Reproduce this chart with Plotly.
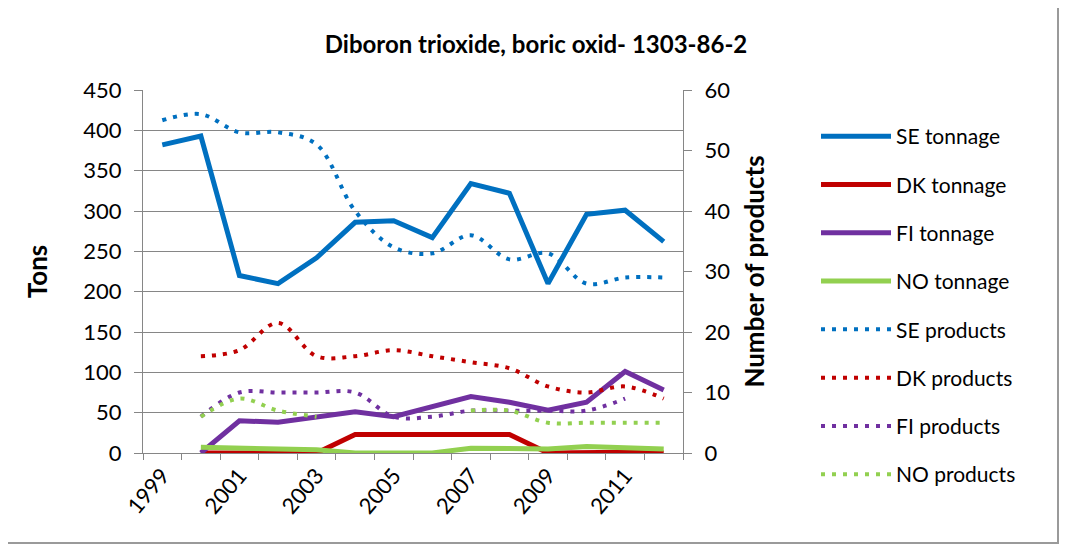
import plotly.graph_objects as go
from plotly.subplots import make_subplots

# data
years = list(range(1999, 2013))
label_years = [1999, 2001, 2003, 2005, 2007, 2009, 2011]

se_tonnage = [382, 393, 220, 210, 242, 286, 288, 267, 334, 322, 210, 296, 301, 262]
dk_tonnage = [None, 0, 0, 0, 0, 23, 23, 23, 23, 23, 0, 1, 1, 0]
fi_tonnage = [None, 0, 40, 38, 45, 51, 45, 57, 70, 63, 53, 63, 101, 78]
no_tonnage = [None, 7, 6, 5, 4, 0, 0, 0, 6, 6, 5, 8, 7, 5]

se_products = [55, 56, 53, 53, 51, 40, 34, 33, 36, 32, 33, 28, 29, 29]
dk_products = [None, 16, 17, 21.5, 16, 16, 17, 16, 15, 14, 11, 10, 11, 9]
fi_products = [None, 6, 10, 10, 10, 10, 6, 6, 7, 7, 7, 7, 9, None]
no_products = [None, 6, 9, 7, 6, None, None, None, 7, 7, 5, 5, 5, 5]

BLUE = "#0070C0"
RED = "#C00000"
PURPLE = "#7030A0"
GREEN = "#92D050"
GREY = "#868686"
FONT = "Lato"

# the page has an 8px body margin, so the figure is shrunk to fit the window
# and positions below are worked out in page pixels, shifted back by it
OFF = 8
W, H = 1067 - 2 * OFF, 552 - 2 * OFF
L, T = 143 - OFF, 90 - OFF
R = W - (683 - OFF)
B = H - (453 - OFF)


def px_x(p):
    return (p - OFF - L) / (W - L - R)


def px_y(p):
    return (H - B - (p - OFF)) / (H - T - B)


fig = make_subplots(specs=[[{"secondary_y": True}]])

tonnage = [("SE tonnage", se_tonnage, BLUE), ("DK tonnage", dk_tonnage, RED),
           ("FI tonnage", fi_tonnage, PURPLE), ("NO tonnage", no_tonnage, GREEN)]
products = [("SE products", se_products, BLUE), ("DK products", dk_products, RED),
            ("FI products", fi_products, PURPLE), ("NO products", no_products, GREEN)]

for name, vals, col in tonnage:
    fig.add_trace(go.Scatter(x=years, y=vals, name=name, mode="lines", legendgroup=name,
                             line=dict(color=col, width=5)), secondary_y=False)

for name, vals, col in products:
    fig.add_trace(go.Scatter(x=years, y=vals, name=name, mode="lines", legendgroup=name,
                             line=dict(color=col, width=4, dash="4px,7px", shape="spline"),
                             connectgaps=False), secondary_y=True)

fig.update_layout(
    width=W, height=H,
    margin=dict(l=L, r=R, t=T, b=B),
    paper_bgcolor="white", plot_bgcolor="white",
    font=dict(family=FONT, size=22, color="black"),
    title=dict(text="<b>Diboron trioxide, boric oxid- 1303-86-2</b>",
               x=(536 - OFF) / W, xref="container", xanchor="center",
               y=1 - (45 - OFF) / H, yref="container", yanchor="middle",
               font=dict(size=24)),
    showlegend=True,
    legend=dict(x=(816 - OFF) / W, y=1 - (116 - OFF) / H, xref="container", yref="container",
                xanchor="left", yanchor="top", font=dict(size=21),
                tracegroupgap=18, itemwidth=70, maxheight=460,
                bgcolor="rgba(0,0,0,0)"),
    # chart frame: right and bottom edges, as far out as the figure reaches
    shapes=[dict(type="rect", xref="paper", yref="paper",
                 x0=px_x(4), x1=px_x(1058), y0=px_y(543), y1=px_y(5),
                 line=dict(color="#9A9A9A", width=2), layer="above")],
)

fig.update_xaxes(domain=[0, 1], range=[1998.5, 2012.5], tickmode="array", tickvals=label_years,
                 ticktext=[str(y) for y in label_years], tickangle=-50, ticks="",
                 showgrid=False, zeroline=False, showline=True, linecolor=GREY, linewidth=1,
                 ticklabelstandoff=0, automargin=False,
                 minor=dict(tickmode="array", tickvals=[y - 0.5 for y in years] + [2012.5],
                            ticks="outside", ticklen=6, tickcolor=GREY, showgrid=False))

fig.update_yaxes(range=[0, 450], dtick=50, showgrid=True, gridcolor=GREY, gridwidth=1,
                 zeroline=False, showline=True, linecolor=GREY, ticks="outside", ticklen=8,
                 tickcolor=GREY, ticklabelstandoff=8, automargin=False,
                 title=dict(text="<b>Tons</b>", standoff=28),
                 secondary_y=False)
fig.update_yaxes(range=[0, 60], dtick=10, showgrid=False, zeroline=False, showline=True,
                 linecolor=GREY, ticks="outside", ticklen=8, tickcolor=GREY,
                 ticklabelstandoff=8, automargin=False,
                 title=dict(text="<b>Number of products</b>", standoff=16),
                 secondary_y=True)

fig.write_html("out.html")
